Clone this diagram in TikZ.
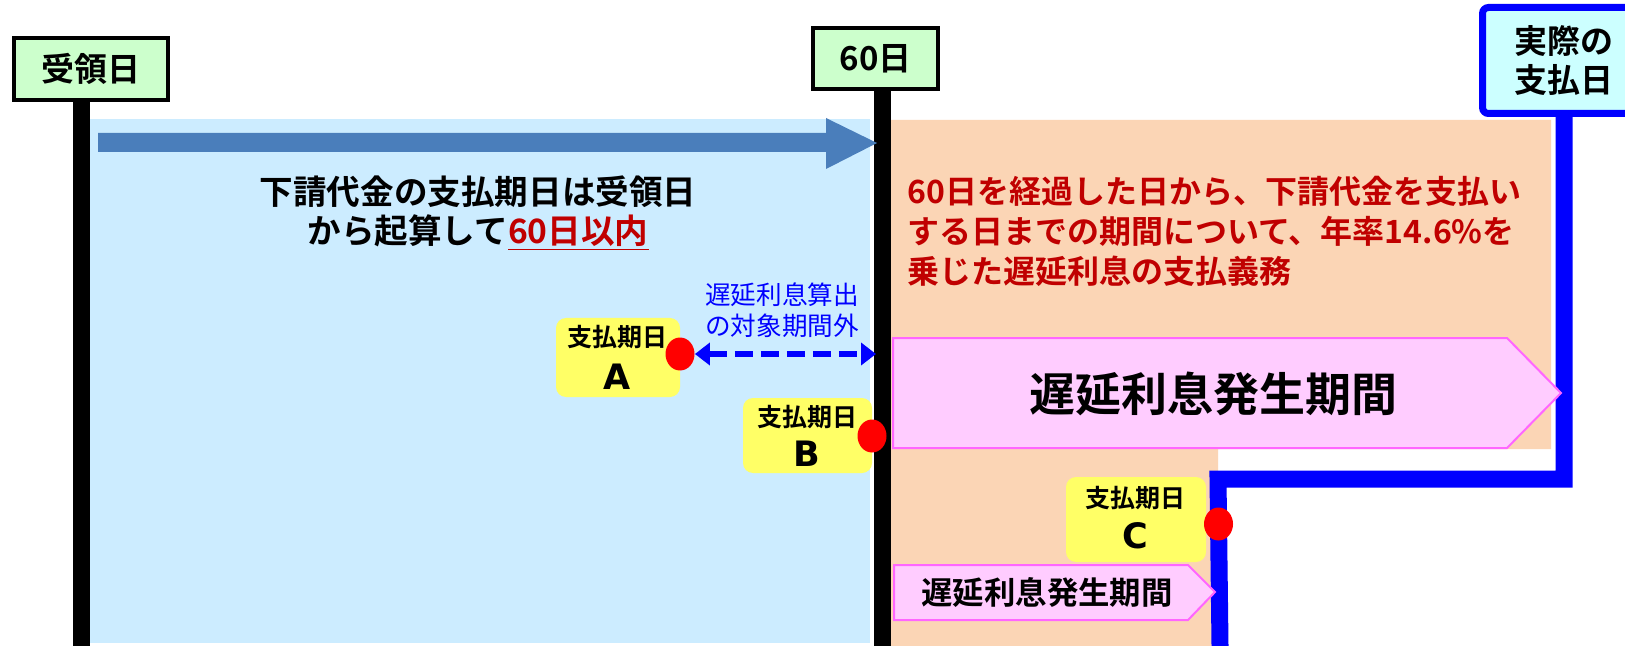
\documentclass[tikz,border=0pt]{standalone}
\usepackage{fontspec}
\setmainfont{Noto Sans CJK JP}[BoldFont={Noto Sans CJK JP Bold}]
\newfontfamily\latf{DejaVu Sans}
\usetikzlibrary{arrows.meta,shapes.geometric}
\definecolor{boxgreen}{HTML}{CCFFCC}
\definecolor{regblue}{HTML}{CCECFF}
\definecolor{regorange}{HTML}{FBD5B5}
\definecolor{arrblue}{HTML}{4A7EBB}
\definecolor{pinkfill}{HTML}{FFCCFF}
\definecolor{pinkline}{HTML}{FF66FF}
\definecolor{yel}{HTML}{FFFF66}
\definecolor{darkred}{HTML}{C00000}
\definecolor{paycyan}{HTML}{CCFFFF}
\newcommand\fsz[2]{\fontsize{#1}{#2}\selectfont}
\tikzset{
  datebox/.style={draw=black, line width=2pt, fill=boxgreen, inner sep=0, font=\bfseries\fsz{16.5pt}{19.5pt}},
  paybox/.style={draw=blue, line width=3.5pt, fill=paycyan, rounded corners=3pt, inner sep=0, align=center, font=\bfseries\fsz{16.5pt}{19.5pt}},
  bar/.style={line width=8.5pt, draw=black},
  payline/.style={line width=8.5pt, draw=blue},
  ybox/.style={fill=yel, rounded corners=5pt, inner sep=0},
  dot/.style={ellipse, fill=red, inner sep=0, minimum width=14.5pt, minimum height=16.5pt},
  lbl/.style={inner sep=0, font=\bfseries\fsz{12.5pt}{15pt}},
  letter/.style={inner sep=0, font=\latf\bfseries\fsz{17.5pt}{20pt}},
  period/.style={fill=pinkfill, draw=pinkline, line width=1pt},
  dblarrow/.style={{Triangle[length=7.5pt,width=11pt]}-{Triangle[length=7.5pt,width=11pt]}}
}
\begin{document}
\begin{tikzpicture}[x=0.5pt,y=-0.5pt]
\useasboundingbox (0,0) rectangle (1625,646);
\clip (0,0) rectangle (1625,646);
\fill[white] (0,0) rectangle (1625,646);
% regions
\fill[regblue] (89,119) rectangle (870,643);
\fill[regorange] (891,120) -| (1551,449) -| (1218,646) -| cycle;
% date boxes
\node[datebox, minimum width=77.25pt, minimum height=31pt] (recv) at (90.75,69) {受領日};
\node[datebox, minimum width=62.5pt, minimum height=30.5pt] (d60) at (875.5,58.5) {60日};
\node[paybox, minimum width=81.5pt, minimum height=53pt] (pay) at (1564,60.5) {実際の\\支払日};
% vertical bars
\coordinate (bot1) at (81,646);
\coordinate (bot2) at (882,646);
\coordinate (cC) at (1218,479);
\coordinate (pC) at (1220,646);
\draw[bar] (bot1 |- recv.south) -- (bot1);
\draw[bar] (bot2 |- d60.south) -- (bot2);
\draw[payline] (pay.south) |- (cC) -- (pC);
% big blue arrow
\fill[arrblue] (98,133) -- (826,133) -- (826,118) -- (877,143) -- (826,169) -- (826,152) -- (98,152) -- cycle;
% main text
\node[font=\bfseries\fsz{16.8pt}{19.5pt}, align=center, inner sep=0] (mt) at (478,213)
  {下請代金の支払期日は受領日\\から起算して\textcolor{darkred}{\underline{60日以内}}};
% red text
\node[font=\bfseries\fsz{16pt}{20pt}, text=darkred, align=left, anchor=west, inner sep=0] (rt) at (907,231)
  {60日を経過した日から、下請代金を支払い\\する日までの期間について、年率14.6\%を\\乗じた遅延利息の支払義務};
% pink period arrows
\draw[period] (893,338) -- (1507,338) -- (1561,393) -- (1507,448) -- (893,448) -- cycle;
\node[font=\bfseries\fsz{23pt}{26pt}, inner sep=0] (bigp) at (1213,394) {遅延利息発生期間};
\draw[period] (894,565) -- (1188,565) -- (1215,592) -- (1188,620) -- (894,620) -- cycle;
\node[font=\bfseries\fsz{15.7pt}{18pt}, inner sep=0] (smp) at (1047,593) {遅延利息発生期間};
% yellow boxes
\node[ybox, minimum width=62pt, minimum height=39.5pt] (yA) at (618,357.5) {};
\node[ybox, minimum width=64.5pt, minimum height=37.5pt] (yB) at (807.5,435.5) {};
\node[ybox, minimum width=70pt, minimum height=42.5pt] (yC) at (1136,519.5) {};
\node[lbl] (lA) at (617,337) {支払期日};
\node[letter] (cA) at (617,377) {A};
\node[lbl] (lB) at (807,417) {支払期日};
\node[letter] (cB) at (807,454) {B};
\node[lbl] (lC) at (1135,498) {支払期日};
\node[letter] (cCl) at (1135,536) {C};
% red dots
\node[dot] (dA) at (680,354) {};
\node[dot] (dB) at (872,436) {};
\node[dot] (dC) at (1218.5,524) {};
% dashed arrow and its label
\coordinate (dEnd) at (876,354);
\draw[blue, line width=3.2pt, dash pattern=on 9pt off 4pt, dblarrow] (dA.east) -- (dEnd);
\node[text=blue, font=\fsz{12.8pt}{15.5pt}, align=center, inner sep=0] (ex) at (782,310) {遅延利息算出\\の対象期間外};
\end{tikzpicture}
\end{document}
